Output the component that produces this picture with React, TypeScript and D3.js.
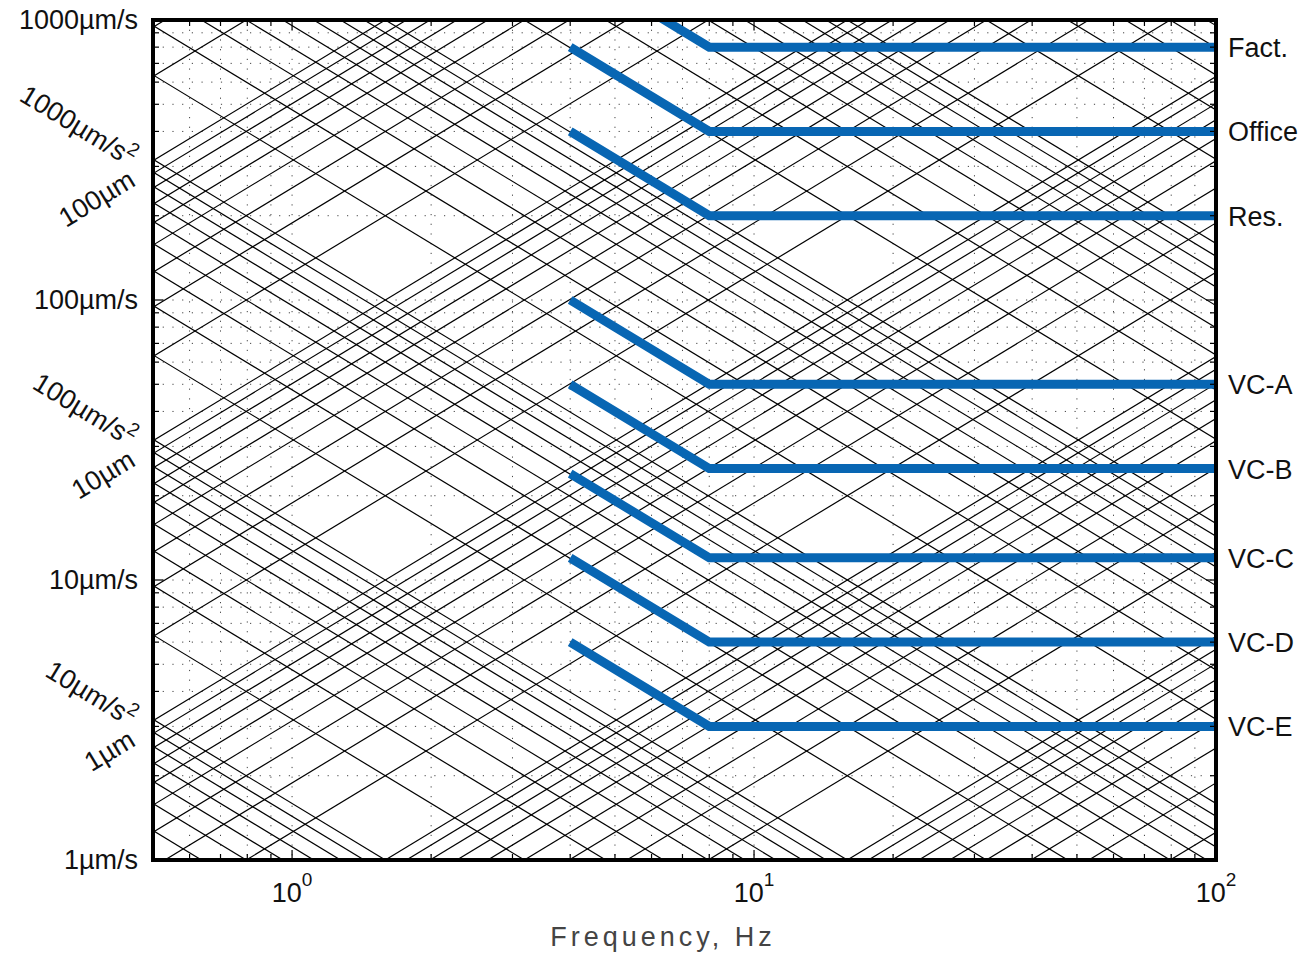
import React, { useEffect, useRef } from "react";
import * as d3 from "d3";

// vibration criteria (flat velocity above the knee)
const criteriaNames = ["Fact.", "Office", "Res.", "VC-A", "VC-B", "VC-C", "VC-D", "VC-E"];
const criteriaVelocity = [800, 400, 200, 50, 25, 12, 6, 3]; // um/s
const criteriaStartHz = 4;
const criteriaKneeHz = 8;
const criteriaEndHz = 100;

// axis ticks
const xMajorTicks = [1, 10, 100];
const xMajorExponents = ["0", "1", "2"];
const yMajorTicks = [1, 10, 100, 1000];
const yMajorLabels = ["1\u00b5m/s", "10\u00b5m/s", "100\u00b5m/s", "1000\u00b5m/s"];

// tripartite background lines
const multipliers = [1, 2, 3, 4, 5, 6, 7, 8, 9];
const accelDecades = [1, 10, 100, 1000, 10000, 100000, 1000000]; // um/s^2
const dispDecades = [0.001, 0.01, 0.1, 1, 10, 100, 1000]; // um
const accelLabelValues = [1000, 100, 10];
const accelLabels = ["1000\u00b5m/s", "100\u00b5m/s", "10\u00b5m/s"];
const dispLabelValues = [100, 10, 1];
const dispLabels = ["100\u00b5m", "10\u00b5m", "1\u00b5m"];

const FONT = "'Liberation Sans', Arial, Helvetica, sans-serif";

const App = () => {
  const svgRef = useRef<SVGSVGElement | null>(null);

  useEffect(() => {
    const svg = d3.select(svgRef.current);
    svg.selectAll("*").remove();

    const left = 153, right = 1216, top = 20, bottom = 860;
    const x = d3.scaleLog().domain([0.5, 100]).range([left, right]);
    const y = d3.scaleLog().domain([1, 1000]).range([bottom, top]);
    const [f0, f1] = x.domain();

    svg.append("defs").append("clipPath").attr("id", "plot-clip")
      .append("rect").attr("x", left).attr("y", top)
      .attr("width", right - left).attr("height", bottom - top);

    const plot = svg.append("g").attr("clip-path", "url(#plot-clip)");

    // dotted grid
    const xMinor: number[] = [];
    [0.1, 1, 10].forEach((dec) => multipliers.forEach((m) => {
      const v = m * dec;
      if (v >= f0 && v <= f1) xMinor.push(v);
    }));
    xMinor.push(100);
    const yMinor: number[] = [];
    [1, 10, 100].forEach((dec) => multipliers.forEach((m) => yMinor.push(m * dec)));
    yMinor.push(1000);

    plot.selectAll(".gx").data(xMinor).join("line")
      .attr("x1", (d) => x(d)).attr("x2", (d) => x(d))
      .attr("y1", top).attr("y2", bottom)
      .attr("stroke", "#444").attr("stroke-width", 1)
      .attr("stroke-dasharray", "1.2,8.5");
    plot.selectAll(".gy").data(yMinor).join("line")
      .attr("y1", (d) => y(d)).attr("y2", (d) => y(d))
      .attr("x1", left).attr("x2", right)
      .attr("stroke", "#444").attr("stroke-width", 1)
      .attr("stroke-dasharray", "1.2,8.5");

    // constant displacement / acceleration lines
    const line = d3.line<[number, number]>().x((d) => x(d[0])).y((d) => y(d[1]));
    const accel: number[] = [];
    accelDecades.forEach((dec) => multipliers.forEach((m) => accel.push(m * dec)));
    const disp: number[] = [];
    dispDecades.forEach((dec) => multipliers.forEach((m) => disp.push(m * dec)));

    plot.selectAll(".acc").data(accel).join("path")
      .attr("d", (a) => line([[f0, a / (2 * Math.PI * f0)], [f1, a / (2 * Math.PI * f1)]]))
      .attr("fill", "none").attr("stroke", "#000").attr("stroke-width", 1.2);
    plot.selectAll(".dsp").data(disp).join("path")
      .attr("d", (dd) => line([[f0, 2 * Math.PI * f0 * dd], [f1, 2 * Math.PI * f1 * dd]]))
      .attr("fill", "none").attr("stroke", "#000").attr("stroke-width", 1.2);

    // criteria curves
    plot.selectAll(".vc").data(criteriaVelocity).join("path")
      .attr("d", (v) => line([
        [criteriaStartHz, (v * criteriaKneeHz) / criteriaStartHz],
        [criteriaKneeHz, v],
        [criteriaEndHz, v],
      ]))
      .attr("fill", "none").attr("stroke", "#0866b3").attr("stroke-width", 9)
      .attr("stroke-linejoin", "miter");

    // ticks
    const ticks = svg.append("g").attr("stroke", "#000").attr("stroke-width", 1.2);
    xMinor.forEach((f) => {
      const len = xMajorTicks.includes(f) ? 10 : 6;
      ticks.append("line").attr("x1", x(f)).attr("x2", x(f)).attr("y1", top).attr("y2", top + len);
      ticks.append("line").attr("x1", x(f)).attr("x2", x(f)).attr("y1", bottom).attr("y2", bottom - len);
    });
    yMinor.forEach((v) => {
      const len = yMajorTicks.includes(v) ? 10 : 6;
      ticks.append("line").attr("y1", y(v)).attr("y2", y(v)).attr("x1", left).attr("x2", left + len);
      ticks.append("line").attr("y1", y(v)).attr("y2", y(v)).attr("x1", right).attr("x2", right - len);
    });

    // frame
    svg.append("rect").attr("x", left).attr("y", top)
      .attr("width", right - left).attr("height", bottom - top)
      .attr("fill", "none").attr("stroke", "#000").attr("stroke-width", 4);

    // y labels
    svg.selectAll(".ylab").data(yMajorTicks).join("text")
      .attr("x", left - 15).attr("y", (d) => y(d) + 9)
      .attr("text-anchor", "end").attr("font-family", FONT).attr("font-size", 27)
      .attr("fill", "#111")
      .text((d, i) => yMajorLabels[i]);

    // x labels
    xMajorTicks.forEach((f, i) => {
      const t = svg.append("text").attr("x", x(f)).attr("y", 902)
        .attr("text-anchor", "middle").attr("font-family", FONT).attr("font-size", 27)
        .attr("fill", "#111");
      t.append("tspan").text("10");
      t.append("tspan").attr("dy", -16).attr("font-size", 19).text(xMajorExponents[i]);
    });

    svg.append("text").attr("x", 663).attr("y", 946)
      .attr("text-anchor", "middle").attr("font-family", FONT).attr("font-size", 27)
      .attr("letter-spacing", 4).attr("fill", "#444")
      .text("Frequency, Hz");

    // rotated labels for acceleration / displacement lines
    const angle = (Math.atan((y(1) - y(10)) / (x(10) - x(1))) * 180) / Math.PI;
    accelLabelValues.forEach((a, i) => {
      const yl = y(a / (2 * Math.PI * f0));
      const t = svg.append("text")
        .attr("transform", `translate(${left - 24},${yl + 8}) rotate(${angle})`)
        .attr("text-anchor", "end").attr("font-family", FONT).attr("font-size", 27)
        .attr("fill", "#111");
      t.append("tspan").text(accelLabels[i]);
      t.append("tspan").attr("dy", -11).attr("font-size", 19).text("2");
    });
    dispLabelValues.forEach((dd, i) => {
      const yl = y(2 * Math.PI * f0 * dd);
      svg.append("text")
        .attr("transform", `translate(${left - 16},${yl + 24}) rotate(${-angle})`)
        .attr("text-anchor", "end").attr("font-family", FONT).attr("font-size", 27)
        .attr("fill", "#111")
        .text(dispLabels[i]);
    });

    // criteria names
    svg.selectAll(".vcl").data(criteriaVelocity).join("text")
      .attr("x", right + 12).attr("y", (v) => y(v) + 10)
      .attr("font-family", FONT).attr("font-size", 27).attr("fill", "#111")
      .text((v, i) => criteriaNames[i]);
  }, []);

  return (
    <svg
      ref={svgRef}
      width={1312}
      height={955}
      style={{ position: "absolute", left: 0, top: 0, display: "block", background: "#fff" }}
    />
  );
};

export default App;
